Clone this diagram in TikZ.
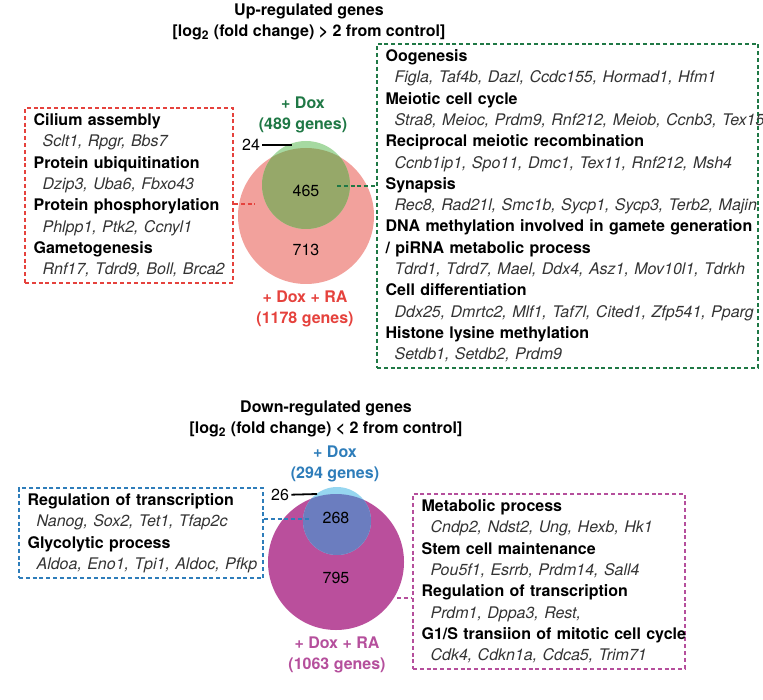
\documentclass[tikz,border=0pt]{standalone}
\usepackage{fontspec}
\setmainfont{TeX Gyre Heros}
\newcommand{\goname}[1]{\mbox{\bfseries #1}\\}
\newcommand{\gogenes}[1]{\hspace*{4.5pt}\mbox{\itshape\color{kGene}#1}}
\begin{document}
\begin{tikzpicture}[x=0.5pt,y=-0.5pt,
  every node/.style={font=\fontsize{8}{10.65}\selectfont},
  gobox/.style={draw=#1,dash pattern=on 2pt off 1.4pt,line width=1pt,anchor=north west,inner xsep=4.3pt,inner ysep=2.8pt,align=left},
  golink/.style={draw=#1,dash pattern=on 2pt off 1.4pt,line width=1pt},
  count/.style={inner sep=1pt},
  setlabel/.style={font=\fontsize{8}{10.7}\selectfont\bfseries,text=#1,align=center}]
  % colors
  \definecolor{kGene}{rgb}{0.20,0.20,0.20}
  \definecolor{kGreen}{rgb}{0.12,0.47,0.27}
  \definecolor{kRed}{rgb}{0.90,0.26,0.24}
  \definecolor{kBlue}{rgb}{0.18,0.49,0.73}
  \definecolor{kPink}{rgb}{0.71,0.31,0.61}
  \definecolor{kLightGreen}{rgb}{0.65,0.85,0.63}
  \definecolor{kSalmon}{rgb}{0.95,0.63,0.61}
  \definecolor{kOlive}{rgb}{0.59,0.66,0.41}
  \definecolor{kLightBlue}{rgb}{0.59,0.84,0.94}
  \definecolor{kMagenta}{rgb}{0.73,0.31,0.61}
  \definecolor{kIndigo}{rgb}{0.42,0.49,0.75}
  \useasboundingbox (0,0) rectangle (763,699);
  % titles
  \node[font=\fontsize{8}{10.7}\selectfont\bfseries,align=center] (uptitle) at (309,22)
    {Up-regulated genes\\{[}log\textsubscript{2} (fold change) > 2 from control{]}};
  \node[font=\fontsize{8}{10.7}\selectfont\bfseries,align=center] (dntitle) at (326,419)
    {Down-regulated genes\\{[}log\textsubscript{2} (fold change) < 2 from control{]}};
  % up-regulated venn
  \fill[kSalmon] (306,216) circle (68);
  \fill[kLightGreen] (306,185) circle (44);
  \begin{scope}
    \clip (306,216) circle (68);
    \fill[kOlive] (306,185) circle (44);
  \end{scope}
  \node[count] (n465) at (306,191) {465};
  \node[count] (n713) at (306,250) {713};
  \node[count] (n24) at (251,145) {24};
  \coordinate (p24) at (292,145);
  \draw[line width=0.6pt] (n24) -- (p24);
  \node[setlabel=kGreen] (dox) at (303,115) {+ Dox\\(489 genes)};
  \node[setlabel=kRed] (doxra) at (305,309) {+ Dox + RA\\(1178 genes)};
  % down-regulated venn
  \fill[kMagenta] (336,562) circle (68);
  \fill[kLightBlue] (337,521) circle (34);
  \begin{scope}
    \clip (336,562) circle (68);
    \fill[kIndigo] (337,521) circle (34);
  \end{scope}
  \node[count] (n268) at (336,518) {268};
  \node[count] (n795) at (336,578) {795};
  \node[count] (n26) at (280,495) {26};
  \coordinate (p26) at (317,494);
  \draw[line width=0.9pt] (n26) -- (p26);
  \node[setlabel=kBlue] (dnDox) at (335,464) {+ Dox\\(294 genes)};
  \node[setlabel=kPink] (dnDoxra) at (337,655) {+ Dox + RA\\(1063 genes)};
  % GO term boxes
  \node[gobox=kRed,text width=95.4pt] (redbox) at (24,107) {%
    \goname{Cilium assembly}\gogenes{Sclt1, Rpgr, Bbs7}\\
    \goname{Protein ubiquitination}\gogenes{Dzip3, Uba6, Fbxo43}\\
    \goname{Protein phosphorylation}\gogenes{Phlpp1, Ptk2, Ccnyl1}\\
    \goname{Gametogenesis}\gogenes{Rnf17, Tdrd9, Boll, Brca2}};
  \node[gobox=kGreen,text width=181.9pt] (greenbox) at (376,43) {%
    \goname{Oogenesis}\gogenes{Figla, Taf4b, Dazl, Ccdc155, Hormad1, Hfm1}\\
    \goname{Meiotic cell cycle}\gogenes{Stra8, Meioc, Prdm9, Rnf212, Meiob, Ccnb3, Tex15}\\
    \goname{Reciprocal meiotic recombination}\gogenes{Ccnb1ip1, Spo11, Dmc1, Tex11, Rnf212, Msh4}\\
    \goname{Synapsis}\gogenes{Rec8, Rad21l, Smc1b, Sycp1, Sycp3, Terb2, Majin}\\
    \goname{DNA methylation involved in gamete generation}\goname{/ piRNA metabolic process}\gogenes{Tdrd1, Tdrd7, Mael, Ddx4, Asz1, Mov10l1, Tdrkh}\\
    \goname{Cell differentiation}\gogenes{Ddx25, Dmrtc2, Mlf1, Taf7l, Cited1, Zfp541, Pparg}\\
    \goname{Histone lysine methylation}\gogenes{Setdb1, Setdb2, Prdm9}};
  \node[gobox=kBlue,text width=113.4pt] (bluebox) at (18,487) {%
    \goname{Regulation of transcription}\gogenes{Nanog, Sox2, Tet1, Tfap2c}\\
    \goname{Glycolytic process}\gogenes{Aldoa, Eno1, Tpi1, Aldoc, Pfkp}};
  \node[gobox=kPink,text width=127.4pt] (pinkbox) at (412,493) {%
    \goname{Metabolic process}\gogenes{Cndp2, Ndst2, Ung, Hexb, Hk1}\\
    \goname{Stem cell maintenance}\gogenes{Pou5f1, Esrrb, Prdm14, Sall4}\\
    \goname{Regulation of transcription}\gogenes{Prdm1, Dppa3, Rest,}\\
    \goname{G1/S transiion of mitotic cell cycle}\gogenes{Cdk4, Cdkn1a, Cdca5, Trim71}};
  % links
  \coordinate (redtip) at (255,204);
  \coordinate (greentip) at (337,186);
  \coordinate (bluetip) at (310,519);
  \coordinate (pinktip) at (397,598);
  \draw[golink=kRed] (redbox.east |- redtip) -- (redtip);
  \draw[golink=kGreen] (greentip) -- (greentip -| greenbox.west);
  \draw[golink=kBlue] (bluebox.east |- bluetip) -- (bluetip);
  \draw[golink=kPink] (pinktip) -- (pinktip -| pinkbox.west);
\end{tikzpicture}
\end{document}
